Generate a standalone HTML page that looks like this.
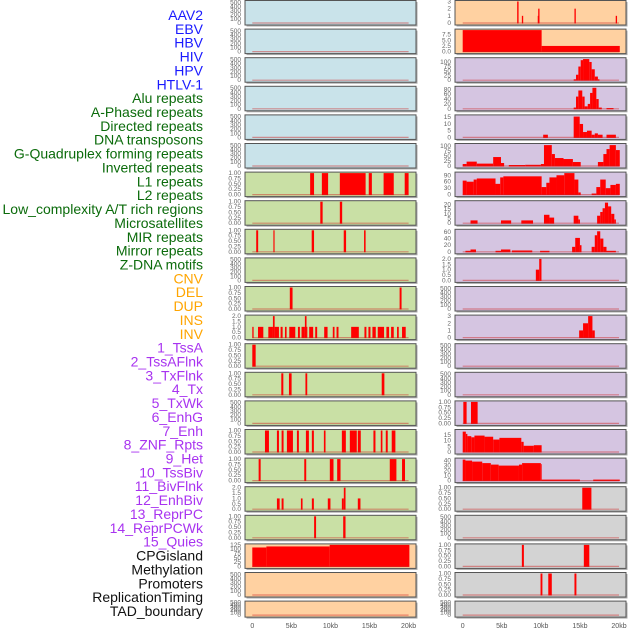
<!DOCTYPE html>
<html><head><meta charset="utf-8"><style>
html,body{margin:0;padding:0;background:#fff;}
svg{display:block;font-family:"Liberation Sans",sans-serif;}
</style></head><body>
<svg id="chart" width="630" height="630" viewBox="0 0 630 630" xmlns="http://www.w3.org/2000/svg"></svg>
<script>
const trackLabels = ["AAV2","EBV","HBV","HIV","HPV","HTLV-1","Alu repeats","A-Phased repeats","Directed repeats","DNA transposons","G-Quadruplex forming repeats","Inverted repeats","L1 repeats","L2 repeats","Low_complexity A/T rich regions","Microsatellites","MIR repeats","Mirror repeats","Z-DNA motifs","CNV","DEL","DUP","INS","INV","1_TssA","2_TssAFlnk","3_TxFlnk","4_Tx","5_TxWk","6_EnhG","7_Enh","8_ZNF_Rpts","9_Het","10_TssBiv","11_BivFlnk","12_EnhBiv","13_ReprPC","14_ReprPCWk","15_Quies","CPGisland","Methylation","Promoters","ReplicationTiming","TAD_boundary"];
const labelGroups = [6,13,5,15,5];
const groupColors = ["#1a1aff","#0b6b0b","#ffa500","#a833f0","#111111"];
const xTickValues = [0,5,10,15,20];
const xTickLabels = ["0","5kb","10kb","15kb","20kb"];
const T500 = ["0","100","200","300","400","500"];
const T1 = ["0.00","0.25","0.50","0.75","1.00"];
const T2 = ["0.0","0.5","1.0","1.5","2.0"];
// left column: [start_kb, end_kb, value]
const leftValues = [
 [],[],[],[],[],[],
 [[7.4,7.9,1],[8.9,9.7,1],[11.2,14.5,1],[14.9,15.3,1],[16.8,18.1,1],[19.5,20,1]],
 [[8.7,9.0,1],[11.2,11.5,1]],
 [[0.5,0.75,1],[2.7,2.85,1],[7.6,7.9,1],[11.7,12.0,1],[14.3,14.5,1]],
 [],
 [[4.8,5.15,1],[18.85,19.1,1]],
 [[0,0.17,1],[0.73,1.41,1],[2.05,2.64,1],[2.64,2.86,2],[2.86,3.41,1],[3.62,3.88,1],[4.18,4.39,1],[4.73,5.5,1],[5.84,6.09,1],[6.3,6.73,1],[6.73,6.94,2],[6.94,7.03,1],[7.28,7.79,1],[8.05,8.3,1],[9.2,9.63,1],[10.3,10.52,1],[10.78,11.03,1],[12.65,13.63,1],[14.35,14.6,1],[14.86,15.12,1],[15.37,15.8,1],[16.05,16.86,1],[17.16,17.5,1],[17.76,18.1,1],[18.52,18.74,1],[19.16,19.63,1]],
 [[0,0.43,1]],
 [[3.71,3.97,1],[4.69,5.03,1],[6.8,7.03,1],[16.56,16.9,1]],
 [],
 [[1.62,2.13,1],[3.15,3.41,1],[3.75,4.0,1],[4.43,5.2,1],[5.71,5.96,1],[6.86,7.24,1],[7.62,7.88,1],[9.16,9.37,1],[11.46,11.97,1],[12.48,13.37,1],[13.5,13.88,1],[15.5,15.76,1],[16.44,16.65,1],[17.08,17.33,1],[17.84,18.31,1]],
 [[0.81,1.07,1],[6.65,6.9,1],[9.92,10.39,1],[10.86,11.29,1],[17.59,18.44,1],[19.16,19.54,1]],
 [[3.15,3.5,1],[3.75,4.0,1],[6.22,6.43,1],[7.62,7.88,1],[9.66,10.0,1],[11.46,11.71,1],[11.71,11.93,2],[13.5,13.84,1]],
 [[7.91,8.16,1],[11.63,11.93,1]],
 [[0,1.8,110],[1.8,9.9,116],[9.9,20.1,125]],
 [],[]
];
const leftYMax = [520,520,520,520,520,520,1,1,1,520,1,2,1,1,520,1,1,2,1,125,520,520];
const leftTicks = [T500,T500,T500,T500,T500,T500,T1,T1,T1,T500,T1,T2,T1,T1,T500,T1,T1,T2,T1,["0","25","50","75","100","125"],T500,T500];
const rightValues = [
 [[6.97,7.15,3],[7.57,7.74,1],[9.6,9.66,1],[9.66,9.83,2],[14.3,14.47,2],[19.58,19.75,1]],
 [[0,10.1,9.5],[10.1,20.1,2.5]],
 [[14.2,14.5,5],[14.5,14.8,30],[14.8,15.1,75],[15.1,15.4,110],[15.4,16.2,116],[16.2,16.5,100],[16.5,16.9,60],[16.9,17.3,20],[17.3,17.5,5]],
 [[14.2,14.5,5],[14.5,14.8,50],[14.8,15.3,75],[15.3,15.6,50],[15.6,16.0,10],[16.0,16.3,20],[16.3,16.6,65],[16.6,17.1,86],[17.1,17.4,40],[17.4,17.8,5],[18.4,19.3,3]],
 [[10.3,10.9,2],[14.2,14.97,15.5],[14.97,15.4,10],[15.4,15.9,4],[15.9,16.5,5],[16.5,16.9,2],[16.9,17.3,3],[17.3,17.9,2],[18.4,19.6,2]],
 [[0,0.5,10],[0.5,1.8,22],[1.8,3.9,12],[3.9,4.9,45],[4.9,5.3,15],[5.9,8.0,5],[8.0,10.0,6],[10.0,10.4,10],[10.4,11.4,105],[11.4,11.8,60],[11.8,12.9,40],[12.9,14.1,35],[14.1,15.1,20],[17.3,18.0,20],[18.0,18.4,60],[18.4,18.8,85],[18.8,19.6,105],[19.6,20.1,80]],
 [[0,0.5,65],[0.5,1.4,60],[1.4,1.8,70],[1.8,4.2,75],[4.2,4.8,50],[4.8,5.2,80],[5.2,10.1,85],[10.1,10.7,35],[10.7,11.1,55],[11.1,12.0,80],[12.0,13.0,90],[13.0,14.3,100],[14.3,14.8,70],[14.8,15.1,10],[16.5,17.1,5],[17.1,17.6,35],[17.6,18.3,70],[18.3,18.9,30],[18.9,19.6,45],[19.6,20.1,50]],
 [[1.0,1.9,3],[4.9,6.2,3],[7.5,9.0,3],[10.4,11.1,9],[11.1,11.7,6],[14.2,14.8,8],[14.8,15.0,4],[17.2,17.6,8],[17.6,17.9,12],[17.9,18.2,16],[18.2,18.6,22],[18.6,19.0,18],[19.0,19.4,10],[19.4,19.6,4]],
 [[0.35,1.0,3],[1.0,1.7,7],[4.2,4.9,3],[4.9,6.1,7],[6.3,8.9,4],[9.9,11.1,3],[14.0,14.4,15],[14.4,15.0,42],[15.0,15.2,20],[16.5,16.9,15],[16.9,17.2,50],[17.2,17.6,62],[17.6,18.0,40],[18.0,18.4,15],[18.4,19.6,3]],
 [[9.36,9.79,1],[9.79,10.08,2]],
 [],
 [[14.9,15.4,1],[15.4,16.05,2],[16.05,16.6,3],[16.6,16.9,1]],
 [],[],
 [[0.08,0.5,1],[1.06,1.91,1]],
 [[0,0.4,18],[0.4,0.6,16],[0.6,1.1,14],[1.1,1.5,13],[1.5,2.8,14.5],[2.8,3.9,13.5],[3.9,4.7,11],[4.7,7.5,12.5],[7.5,7.8,9],[7.8,9.1,5.5],[9.1,10.1,6]],
 [[0,0.35,42],[0.35,1.2,40],[1.2,2.5,38],[2.5,3.6,35],[3.6,4.6,32],[4.6,7.2,30],[7.2,7.6,32],[7.6,10.0,35],[10.0,10.1,33],[10.1,15.0,2],[16.7,20.1,2]],
 [[15.3,16.47,1]],
 [],
 [[7.57,7.83,1],[15.5,16.2,1]],
 [[9.96,10.2,1],[10.95,11.4,1],[14.3,14.55,1]],
 []
];
const rightYMax = [3,9.5,118,88,16,108,100,23,65,2,520,3,520,520,1,19,43,1,520,1,1,520];
const rightTicks = [["0","1","2","3"],["0.0","2.5","5.0","7.5"],["0","25","50","75","100"],["0","20","40","60","80"],["0","5","10","15"],["0","25","50","75","100"],["0","30","60","90"],["0","5","10","15","20"],["0","20","40","60"],T2,T500,["0","1","2","3"],T500,T500,T1,["0","5","10","15"],["0","10","20","30","40"],T1,T500,T1,T1,T500];

const NS = "http://www.w3.org/2000/svg";
const svg = document.getElementById("chart");
function mk(tag, attrs, parent){ const e=document.createElementNS(NS,tag); for(const k in attrs) e.setAttribute(k,attrs[k]); (parent||svg).appendChild(e); return e; }

// labels
let li=0;
labelGroups.forEach((n,g)=>{ for(let k=0;k<n;k++){ const t=mk("text",{x:203,y:20+li*13.86,"text-anchor":"end","font-size":"14",fill:groupColors[g]});
 
 
 t.textContent=trackLabels[li]; li++; } });

const leftBg = i => i<6 ? "#c9e3ea" : (i<19 ? "#c9e0a5" : "#ffd1a1");
const rightBg = i => i<2 ? "#ffd1a1" : (i<17 ? "#d5c5e1" : "#d3d3d3");

function panel(col, i, x0, x1, dx0, bg, segs, ymax, ticks){
 const top = i*28.6+0.5; const h = i===21 ? 16 : 24.5; const bottom = top+h;
 const zeroY = bottom-2; const span = h-3;
 const sx = kb => dx0 + kb*(156.3/20);
 const sy = v => zeroY - (v/ymax)*span;
 const g = mk("g",{});
 
 
 mk("rect",{x:x0+1.5,y:top+1.5,width:x1-x0,height:h,fill:"#aaa"},g);
 mk("rect",{x:x0,y:top,width:x1-x0,height:h,fill:bg,stroke:"#555","stroke-width":1},g);
 segs.forEach(s=>{ const r=mk("rect",{x:sx(s[0]),y:sy(s[2]),width:Math.max(0.8,sx(s[1])-sx(s[0])),height:zeroY-sy(s[2])+0.5,fill:"#ff0000"},g);
  
   });
 mk("line",{x1:sx(0),x2:sx(20),y1:zeroY,y2:zeroY,stroke:"#cc2020","stroke-opacity":0.45,"stroke-width":1.2},g);
 ticks.forEach(t=>{ const v=parseFloat(t); const tx=mk("text",{x:x0-4,y:sy(v)+2,"text-anchor":"end","font-size":"6.5",fill:"#666"},g);
  
  
  tx.textContent=t; });
}
for(let i=0;i<22;i++){
 panel("left",i,245,416,252.3,leftBg(i),leftValues[i],leftYMax[i],leftTicks[i]);
 panel("right",i,455,626,462.7,rightBg(i),rightValues[i],rightYMax[i],rightTicks[i]);
}
[[252.3],[462.7]].forEach((o,c)=>{ xTickValues.forEach((v,k)=>{ const t=mk("text",{x:o[0]+v*(156.3/20),y:628,"text-anchor":"middle","font-size":"7",fill:"#555"});
 
 
 t.textContent=xTickLabels[k]; }); });
</script>
</body></html>
